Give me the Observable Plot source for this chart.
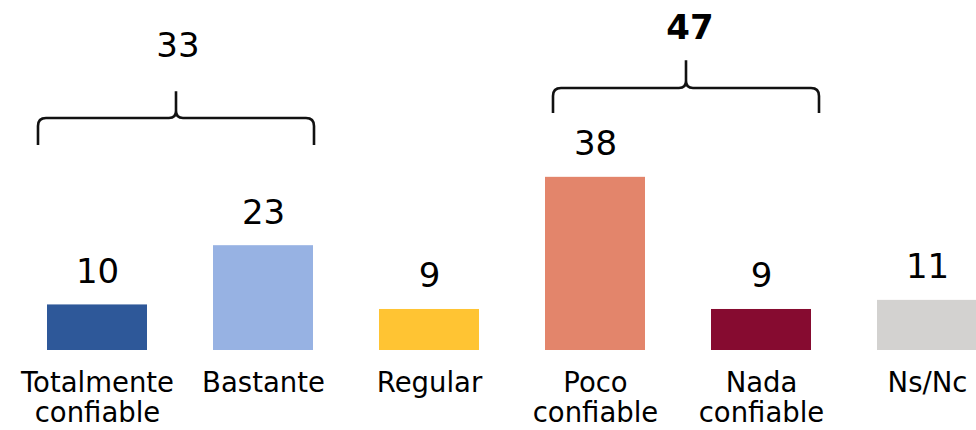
<!DOCTYPE html>
<html>
<head>
<meta charset="utf-8">
<script src="https://cdn.jsdelivr.net/npm/d3@7"></script>
<script src="https://cdn.jsdelivr.net/npm/@observablehq/plot@0.6"></script>
<style>
  html, body { margin: 0; padding: 0; background: #fff; overflow: hidden; }
</style>
</head>
<body>
<div id="chart"></div>
<script>
// ---- data ----
const categories = ["Totalmente confiable", "Bastante", "Regular", "Poco confiable", "Nada confiable", "Ns/Nc"];
const labels = ["Totalmente\nconfiable", "Bastante", "Regular", "Poco\nconfiable", "Nada\nconfiable", "Ns/Nc"];
const values = [10, 23, 9, 38, 9, 11];
const colors = ["#2E5899", "#97B2E3", "#FFC433", "#E3856B", "#860B30", "#D3D2D0"];

const groupLabels = ["33", "47"];
const groupFrom = ["Totalmente confiable", "Poco confiable"];
const groupTo = ["Bastante", "Nada confiable"];

// ---- layout (not data) ----
const FONT = "DejaVu Sans, Verdana, sans-serif";
const braceLayout = [
  {bottom: 45.0, mid: 50.9, peak: 56.8, label: 67.0, weight: "normal", shift: -4, pad: 55, labelShift: 2},
  {bottom: 52.0, mid: 57.5, peak: 63.6, label: 70.9, weight: "bold", shift: 8, pad: 50, labelShift: 4}
];

const rows = categories.map((c, i) => ({cat: c, label: labels[i], value: values[i], color: colors[i]}));
const groups = groupLabels.map((g, i) => ({text: g, from: groupFrom[i], to: groupTo[i], ...braceLayout[i]}));

function braces(index, scales) {
  const x = scales.x, y = scales.y;
  const bw = typeof x.bandwidth === "function" ? x.bandwidth() : 100;
  const g = d3.create("svg:g");
  const r = 8, rc = 7;
  for (const gr of groups) {
    const c0 = x(gr.from) + bw / 2, c1 = x(gr.to) + bw / 2;
    const xm = (c0 + c1) / 2 + gr.shift;
    const half = (c1 - c0) / 2 + gr.pad;
    const x0 = xm - half, x1 = xm + half;
    const yb = y(gr.bottom), yh = y(gr.mid), yp = y(gr.peak);
    const p = d3.path();
    p.moveTo(x0, yb);
    p.lineTo(x0, yh + r);
    p.quadraticCurveTo(x0, yh, x0 + r, yh);
    p.lineTo(xm - rc, yh);
    p.quadraticCurveTo(xm, yh, xm, yh - rc);
    p.lineTo(xm, yp);
    p.moveTo(xm, yh - rc);
    p.quadraticCurveTo(xm, yh, xm + rc, yh);
    p.lineTo(x1 - r, yh);
    p.quadraticCurveTo(x1, yh, x1, yh + r);
    p.lineTo(x1, yb);
    g.append("path").attr("d", p.toString())
      .attr("fill", "none").attr("stroke", "#111").attr("stroke-width", 2.6);
    g.append("text")
      .attr("x", xm + gr.labelShift).attr("y", y(gr.label)).attr("dy", "0.36em")
      .attr("text-anchor", "middle")
      .attr("font-family", FONT).attr("font-size", 34).attr("font-weight", gr.weight)
      .attr("fill", "#000")
      .text(gr.text);
  }
  return g.node();
}

const chart = Plot.plot({
  width: 976,
  height: 430,
  style: {fontFamily: FONT, background: "#fff", overflow: "hidden"},
  x: {domain: categories, range: [45, 978], paddingInner: 0.4, paddingOuter: 0, axis: null},
  y: {domain: [0, 70], range: [350, 31], axis: null},
  marks: [
    Plot.barY(rows, {x: "cat", y: "value", fill: "color"}),
    Plot.text(rows, {x: "cat", y: "value", text: d => String(d.value), dy: -33, lineAnchor: "middle",
      fontSize: 34, fill: "#000"}),
    Plot.text(rows, {x: "cat", y: () => 0, text: "label", dy: 21, lineAnchor: "top",
      lineHeight: 1.07, fontSize: 27.5, fill: "#000"}),
    braces
  ]
});
document.getElementById("chart").appendChild(chart);
</script>
</body>
</html>
